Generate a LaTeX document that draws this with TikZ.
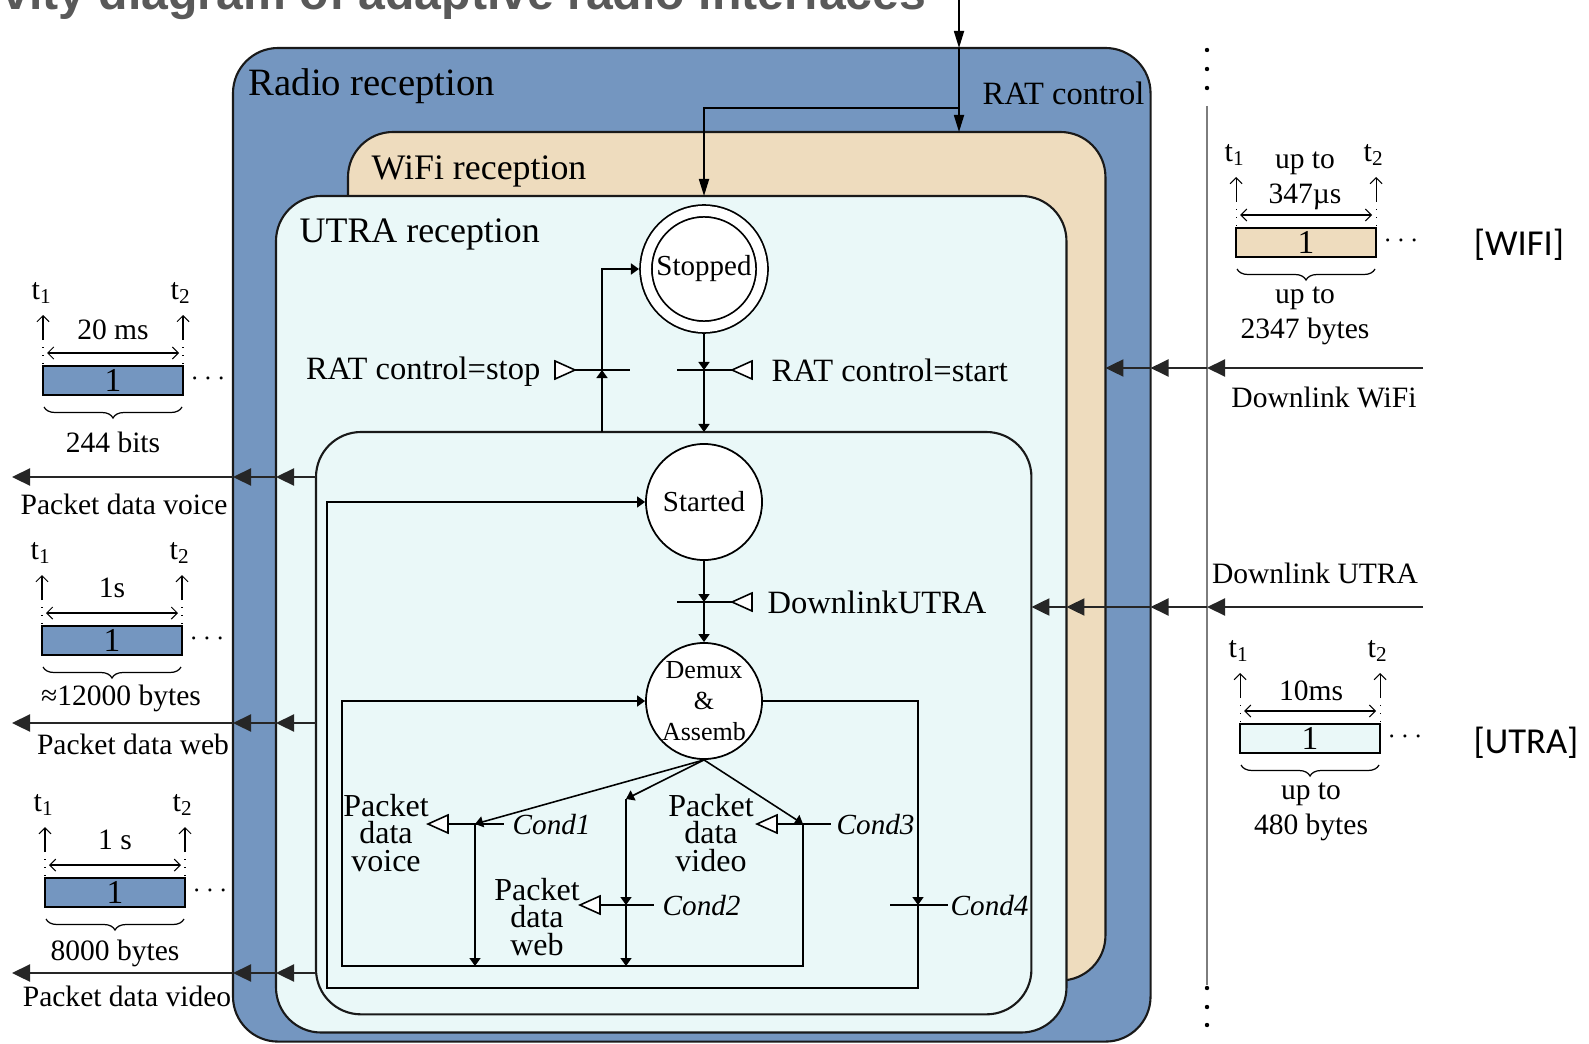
\documentclass[tikz,border=0pt]{standalone}
\usepackage{fontspec}
\setmainfont{Liberation Serif}
\newfontfamily\tagsans{Carlito}
\newfontfamily\headsans{Liberation Sans}
\usetikzlibrary{arrows.meta,decorations.pathreplacing}

\definecolor{radioblue}{RGB}{116,150,192}
\definecolor{wifitan}{RGB}{238,220,190}
\definecolor{utracyan}{RGB}{234,248,248}
\definecolor{headgray}{RGB}{89,89,89}
\definecolor{sepgray}{RGB}{125,125,125}

\newcommand{\diafont}[2]{\fontsize{#1pt}{#2pt}\selectfont}

% one frame of a traffic pattern: cell, span arrow, tick arrows, brace
\newcommand{\timeframe}[4]{%
  \begin{scope}[shift={(#2,#3)}]
    \node[framecell, fill=#4] (#1cell) at (70,14.5) {1};
    \draw[dotted, line width=0.3pt] (0,-2) -- (0,-19) (140,-2) -- (140,-19);
    \draw[spanarrow] (4,-13) -- (136,-13);
    \draw[tickarrow] (0,-26) -- (0,-51);
    \draw[tickarrow] (140,-26) -- (140,-51);
    \node[ticktxt] (#1t1) at (-1,-73) {t\textsubscript{1}};
    \node[ticktxt] (#1t2) at (138,-73) {t\textsubscript{2}};
    \draw[decorate, decoration={brace, mirror, amplitude=0.11cm}, line width=0.35pt] (1,41) -- (139,41);
    \node[inner sep=0pt, font=\diafont{8}{9}] (#1more) at (165,13) {$\cdots$};
  \end{scope}}

\tikzset{
  regionbox/.style={draw=black!90, line width=0.6pt, rounded corners=0.45cm,
    inner sep=0pt, outer sep=0pt, anchor=north west},
  boxtitle/.style={inner sep=0pt, font=\diafont{10.2}{12}},
  txt/.style={inner sep=0pt, font=\diafont{9.25}{11}},
  sidetxt/.style={inner sep=0pt, align=center, font=\diafont{8.4}{9.8}},
  statenode/.style={circle, draw, fill=white, line width=0.5pt, inner sep=0pt,
    minimum size=1.16cm, font=\diafont{8.25}{10}},
  flow/.style={line width=0.45pt, -{Triangle[length=0.08cm,width=0.11cm]}},
  barline/.style={line width=0.45pt},
  topflow/.style={line width=0.5pt, -{Triangle[length=0.17cm,width=0.10cm]}},
  bigflow/.style={line width=0.65pt, draw=black!85, -{Triangle[length=0.18cm,width=0.17cm]}},
  condtxt/.style={anchor=west, inner sep=0pt, font=\diafont{8.3}{10}\itshape},
  pkttxt/.style={align=center, inner sep=0pt, font=\diafont{9.1}{7.9}},
  framecell/.style={draw, line width=0.6pt, inner sep=0pt, minimum width=1.40cm,
    minimum height=0.29cm, font=\diafont{9.5}{10}},
  spanarrow/.style={line width=0.3pt, {Straight Barb[length=0.06cm,width=0.12cm]}-{Straight Barb[length=0.06cm,width=0.12cm]}},
  tickarrow/.style={line width=0.3pt, -{Straight Barb[length=0.06cm,width=0.12cm]}},
  ticktxt/.style={inner sep=0pt, font=\diafont{8.6}{10}},
  tagtxt/.style={inner sep=0pt, font=\diafont{10.4}{12}\tagsans},
  sigleft/.pic={\draw[fill=white, line width=0.45pt] (0,0) -- (20,-9) -- (20,9) -- cycle;},
  sigright/.pic={\draw[fill=white, line width=0.45pt] (0,0) -- (-20,-9) -- (-20,9) -- cycle;},
}

\begin{document}
\begin{tikzpicture}[x=0.01cm, y=-0.01cm]
\path[use as bounding box] (0,0) rectangle (1589,1043);
\clip (0,0) rectangle (1589,1043);

% heading
\node[anchor=base east, inner sep=0pt, text=headgray,
  font=\fontsize{13.7pt}{16pt}\headsans\bfseries] (heading) at (927,10)
  {Activity diagram of adaptive radio interfaces};

% nested regions
\node[regionbox, fill=radioblue, minimum width=9.17cm, minimum height=9.93cm] (radio) at (233,48) {};
\node[regionbox, fill=wifitan, minimum width=7.57cm, minimum height=8.48cm] (wifi) at (348,132) {};
\node[regionbox, fill=utracyan, minimum width=7.90cm, minimum height=8.36cm] (utra) at (276,196) {};
\node[regionbox, fill=utracyan, minimum width=7.15cm, minimum height=5.82cm] (core) at (316,432) {};

\node[boxtitle, anchor=west, font=\diafont{11}{13}] (radiotitle) at (248,86) {Radio reception};
\node[txt, anchor=east] (ratctl) at (1145,93) {RAT control};
\node[boxtitle, anchor=west] (wifititle) at (371,171) {WiFi reception};
\node[boxtitle, anchor=west] (utratitle) at (299,234) {UTRA reception};

% states
\node[statenode, double, double distance=0.10cm, outer sep=0.07cm] (stopped) at (704,269) {Stopped};
\node[statenode] (started) at (704,502) {Started};
\node[statenode, align=center, font=\diafont{7.4}{8.8}] (demux) at (704,701) {Demux\\\&\\Assemb};

% RAT control input
\coordinate (ratin) at (959,0);
\coordinate (ratsplit) at (959,108);
\draw[topflow] (ratin) -- (radio.north -| ratin);
\draw[topflow] (radio.north -| ratin) -- (wifi.north -| ratin);
\draw[topflow] (ratsplit) -| (utra.north -| stopped.north);

% stop / start transitions
\coordinate (stopx) at (602,370);
\coordinate (startx) at (704,370);
\draw[barline] (575,370) -- (630,370);
\pic at (575,370) {sigright};
\node[txt, anchor=east] (stoplbl) at (541,372) {RAT control=stop};
\draw[flow] (core.north -| stopx) -- (stopx);
\draw[flow] (stopx) |- (stopped.west);

\draw[barline] (677,370) -- (732,370);
\pic at (732,370) {sigleft};
\node[txt, anchor=west] (startlbl) at (771,370) {RAT control=start};
\draw[flow] (stopped.south) -- (startx);
\draw[flow] (startx) -- (core.north -| startx);

% downlink reception
\coordinate (dlux) at (704,602);
\draw[barline] (677,602) -- (732,602);
\pic at (732,602) {sigleft};
\node[txt, anchor=west] (dlulbl) at (767,602) {DownlinkUTRA};
\draw[flow] (started.south) -- (dlux);
\draw[flow] (dlux) -- (demux.north);

% outer loop back to Started
\coordinate (c4) at (918,905);
\coordinate (obl) at (327,988);
\draw[barline] (890,905) -- (948,905);
\node[condtxt] (cond4) at (950,906) {Cond4};
\draw[flow] (demux.east) -| (c4);
\draw[flow] (c4) |- (obl) |- (started.west);

% demultiplexing branches
\coordinate (c1) at (475,824);
\coordinate (c2top) at (626,799);
\coordinate (c2) at (626,905);
\coordinate (c3) at (803,824);
\coordinate (ibl) at (342,966);

\draw[barline] (447,824) -- (504,824);
\pic at (428,824) {sigleft};
\node[condtxt] (cond1) at (512,825) {Cond1};
\node[pkttxt] (pvoice) at (386,833) {Packet\\data\\voice};

\draw[barline] (598,905) -- (654,905);
\pic at (580,905) {sigleft};
\node[condtxt] (cond2) at (662,906) {Cond2};
\node[pkttxt] (pweb) at (537,917) {Packet\\data\\web};

\draw[barline] (775,824) -- (831,824);
\pic at (757,824) {sigleft};
\node[condtxt] (cond3) at (836,825) {Cond3};
\node[pkttxt] (pvideo) at (711,833) {Packet\\data\\video};

\draw[flow] (demux.south) -- (c1);
\draw[flow] (c1) -- (c1 |- ibl);
\draw[flow] (demux.south) -- (c2top);
\draw[flow] (c2top) -- (c2);
\draw[flow] (c2) -- (c2 |- ibl);
\draw[flow] (demux.south) -- (c3);
\draw[flow] (c3) |- (ibl) |- (demux.west);

% packet outputs
\coordinate (voiceout) at (12,477);
\coordinate (webout) at (12,723);
\coordinate (videoout) at (12,973);
\foreach \o in {voiceout, webout, videoout} {
  \draw[bigflow] (core.west |- \o) -- (utra.west |- \o);
  \draw[bigflow] (utra.west |- \o) -- (radio.west |- \o);
  \draw[bigflow] (radio.west |- \o) -- (\o);
}
\node[sidetxt] (voicelbl) at (124,504) {Packet data voice};
\node[sidetxt] (weblbl) at (133,744) {Packet data web};
\node[sidetxt] (videolbl) at (127,996) {Packet data video};

% separator to the air interface
\coordinate (septop) at (1207,106);
\coordinate (sepbot) at (1207,985);
\draw[sepgray, line width=0.5pt] (septop) -- (sepbot);
\foreach \yy in {50,69,88,988,1007,1025}
  \fill (1207,\yy) circle[radius=0.022cm];

% downlink inputs
\coordinate (wifiin) at (1423,368);
\draw[bigflow] (wifiin) -- (septop |- wifiin);
\draw[bigflow] (septop |- wifiin) -- (radio.east |- wifiin);
\draw[bigflow] (radio.east |- wifiin) -- (wifi.east |- wifiin);
\node[sidetxt] (wifiinlbl) at (1324,397) {Downlink WiFi};

\coordinate (utrain) at (1423,607);
\draw[bigflow] (utrain) -- (septop |- utrain);
\draw[bigflow] (septop |- utrain) -- (radio.east |- utrain);
\draw[bigflow] (radio.east |- utrain) -- (utra.east |- utrain);
\draw[bigflow] (utra.east |- utrain) -- (core.east |- utrain);
\node[sidetxt] (utrainlbl) at (1315,573) {Downlink UTRA};

% traffic patterns
\timeframe{voice}{43}{366}{radioblue}
\node[sidetxt] (voicespan) at (113,330) {20 ms};
\node[sidetxt] (voicesize) at (113,442) {244 bits};

\timeframe{web}{42}{626}{radioblue}
\node[sidetxt] (webspan) at (112,588) {1s};
\node[sidetxt] (websize) at (121,698) {≈12000 bytes};

\timeframe{video}{45}{878}{radioblue}
\node[sidetxt] (videospan) at (115,840) {1 s};
\node[sidetxt] (videosize) at (115,953) {8000 bytes};

\timeframe{wlan}{1236}{228}{wifitan}
\node[sidetxt] (wlanspan) at (1305,181) {up to\\347µs};
\node[sidetxt] (wlansize) at (1305,316) {up to\\2347 bytes};
\node[tagtxt] (wlantag) at (1519,245) {[WIFI]};

\timeframe{umts}{1240}{724}{utracyan}
\node[sidetxt] (umtsspan) at (1311,691) {10ms};
\node[sidetxt] (umtssize) at (1311,812) {up to\\480 bytes};
\node[tagtxt] (umtstag) at (1526,743) {[UTRA]};

\end{tikzpicture}
\end{document}
